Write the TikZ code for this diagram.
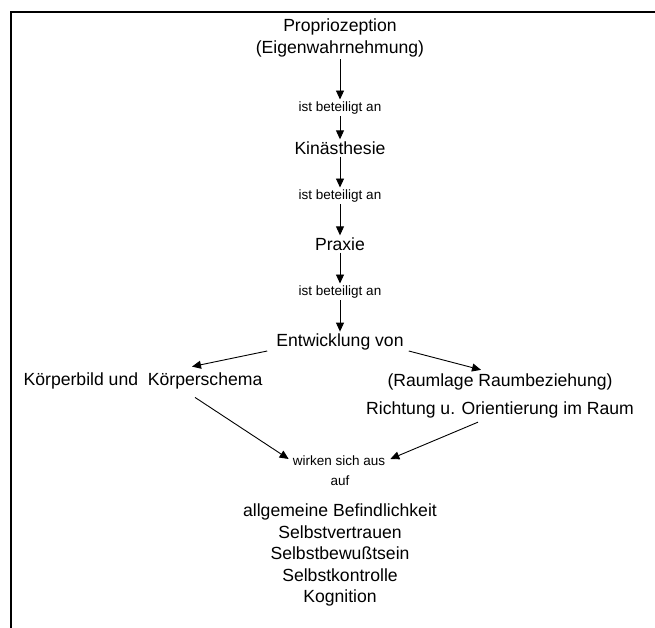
\documentclass[tikz,border=0pt]{standalone}
\usepackage{fontspec}
\setmainfont{Liberation Sans}
\usetikzlibrary{arrows.meta}
\begin{document}
\begin{tikzpicture}[x=1pt,y=-1pt,
  big/.style={font=\fontsize{17.6}{21.5}\selectfont, inner sep=2pt, align=center},
  small/.style={font=\fontsize{13.5}{16}\selectfont, inner sep=2pt},
  flow/.style={-{Triangle[length=9pt,width=8pt]}, line width=0.9pt},
  frame/.style={line width=2pt}]
\useasboundingbox (0,0) rectangle (655,628);
% open frame: top and left edges only
\draw[frame] (655,12) -- (11,12) -- (11,628);

% main chain
\node[big]   (prop) at (340,38)  {Propriozeption\\(Eigenwahrnehmung)};
\node[small] (b1)   at (340,108) {ist beteiligt an};
\node[big]   (kin)  at (340,148) {Kinästhesie};
\node[small] (b2)   at (340,196) {ist beteiligt an};
\node[big]   (prax) at (340,244) {Praxie};
\node[small] (b3)   at (340,292) {ist beteiligt an};
\node[big]   (ent)  at (340,342) {Entwicklung von};

% two branches
\node[big] (kb)   at (143,381) {Körperbild und\ \ Körperschema};
\node[big] (raum) at (500,396) {(Raumlage Raumbeziehung)\\[6pt]Richtung u. Orientierung im Raum};

% effects
\node[small] (wirk) at (339,461) {wirken sich aus};
\node[small] (auf)  at (340,481) {auf};
\node[big]   (list) at (340,555) {allgemeine Befindlichkeit\\Selbstvertrauen\\Selbstbewußtsein\\Selbstkontrolle\\Kognition};

\draw[flow] (prop) -- (b1);
\draw[flow] (b1) -- (kin);
\draw[flow] (kin) -- (b2);
\draw[flow] (b2) -- (prax);
\draw[flow] (prax) -- (b3);
\draw[flow] (b3) -- (ent);

\draw[flow] ([shift={(-7,9)}]ent.west) -- ([shift={(49,-4)}]kb.north);
\draw[flow] ([shift={(3,9)}]ent.east) -- ([shift={(-19,-2)}]raum.north);
\draw[flow] ([shift={(52,6)}]kb.south) -- ([shift={(-2,-2)}]wirk.west);
\draw[flow] ([shift={(-22,2)}]raum.south) -- ([shift={(3,-2)}]wirk.east);
\end{tikzpicture}
\end{document}
